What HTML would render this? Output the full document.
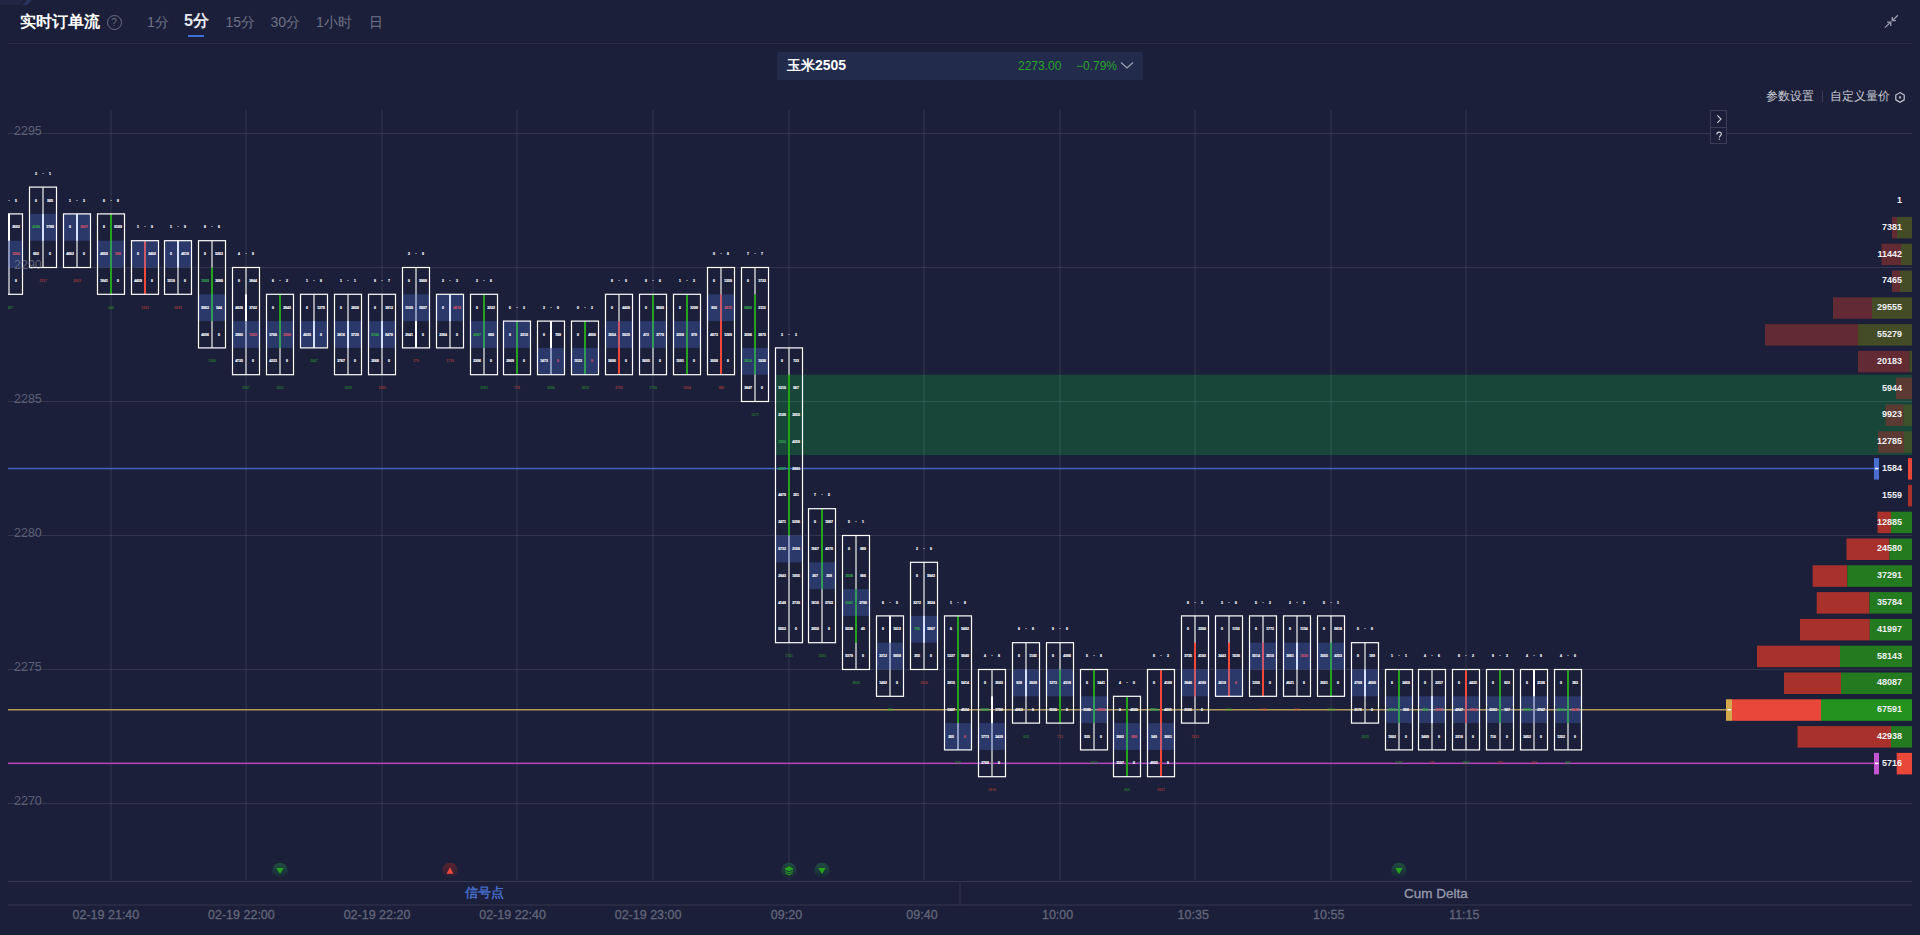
<!DOCTYPE html><html><head><meta charset="utf-8"><style>
*{margin:0;padding:0;box-sizing:border-box}
html,body{width:1920px;height:935px;overflow:hidden;background:#1b1f39;font-family:"Liberation Sans",sans-serif}
.t{font-size:3.4px;font-weight:bold;fill:#ececf2;stroke:#ececf2;stroke-width:0.22px;text-anchor:middle;font-family:"Liberation Sans",sans-serif}
.ax{font-size:12.5px;fill:#8a8da0;fill-opacity:0.6;font-family:"Liberation Sans",sans-serif}
.tm{font-size:12.5px;fill:#62667a;stroke:#62667a;stroke-width:0.3px;text-anchor:middle;font-family:"Liberation Sans",sans-serif}
.vp{font-size:9px;font-weight:bold;fill:#f0f0f4;text-anchor:end;font-family:"Liberation Sans",sans-serif}
.hd{position:absolute;white-space:nowrap;line-height:1}
</style></head><body>
<svg width="1920" height="935" viewBox="0 0 1920 935" style="position:absolute;left:0;top:0"><rect x="8" y="43" width="1904" height="1" fill="#2a2d44"/><path d="M0 0H24L19.5 5H0Z" fill="#212745"/><path d="M27 0H32L27.3 5H22.3Z" fill="#27325f"/><defs><clipPath id="cc"><rect x="8" y="100" width="1904" height="780"/></clipPath></defs><g clip-path="url(#cc)"><rect x="775.5" y="374.7" width="1136.5" height="80.4" fill="#18473a"/><rect x="8" y="133.0" width="1904" height="1" fill="#ffffff" fill-opacity="0.1"/><rect x="8" y="267.0" width="1904" height="1" fill="#ffffff" fill-opacity="0.1"/><rect x="8" y="401.0" width="1904" height="1" fill="#ffffff" fill-opacity="0.1"/><rect x="8" y="535.0" width="1904" height="1" fill="#ffffff" fill-opacity="0.1"/><rect x="8" y="669.0" width="1904" height="1" fill="#ffffff" fill-opacity="0.1"/><rect x="8" y="803.0" width="1904" height="1" fill="#ffffff" fill-opacity="0.1"/><rect x="110.4" y="110" width="1.2" height="770" fill="#ffffff" fill-opacity="0.085"/><rect x="245.4" y="110" width="1.2" height="770" fill="#ffffff" fill-opacity="0.085"/><rect x="381.4" y="110" width="1.2" height="770" fill="#ffffff" fill-opacity="0.085"/><rect x="516.4" y="110" width="1.2" height="770" fill="#ffffff" fill-opacity="0.085"/><rect x="652.4" y="110" width="1.2" height="770" fill="#ffffff" fill-opacity="0.085"/><rect x="788.4" y="110" width="1.2" height="770" fill="#ffffff" fill-opacity="0.085"/><rect x="923.4" y="110" width="1.2" height="770" fill="#ffffff" fill-opacity="0.085"/><rect x="1059.4" y="110" width="1.2" height="770" fill="#ffffff" fill-opacity="0.085"/><rect x="1194.4" y="110" width="1.2" height="770" fill="#ffffff" fill-opacity="0.085"/><rect x="1330.4" y="110" width="1.2" height="770" fill="#ffffff" fill-opacity="0.085"/><rect x="1465.4" y="110" width="1.2" height="770" fill="#ffffff" fill-opacity="0.085"/></g><rect x="8" y="467.8" width="1866" height="1.5" fill="#4163c4"/><rect x="8" y="709.0" width="1720" height="1.5" fill="#b39a5a"/><rect x="8" y="762.6" width="1866" height="1.5" fill="#b546c0"/><g clip-path="url(#cc)"><rect x="8.00" y="213.90" width="2" height="80.40" fill="#9a9ca6"/><rect x="8.00" y="213.90" width="2" height="26.80" fill="#ffffff"/><rect x="-4.50" y="240.70" width="27" height="26.80" fill="#5a82ff" fill-opacity="0.25"/><rect x="-4.50" y="213.90" width="27" height="80.40" fill="none" stroke="#ffffff" stroke-width="1.2"/><text x="2.0" y="228.4" class="t">0</text><text x="16.0" y="228.4" class="t">2682</text><text x="2.0" y="255.2" class="t">1265</text><text x="16.0" y="255.2" class="t" style="fill:#c0506a;stroke:#c0506a">3264</text><text x="2.0" y="282.0" class="t">4419</text><text x="16.0" y="282.0" class="t">0</text><text x="2.0" y="201.6" class="t">1</text><text x="9.0" y="201.6" class="t d">·</text><text x="16.0" y="201.6" class="t">5</text><text x="9.0" y="308.8" class="t" style="fill:#2a9a2a;stroke:none;fill-opacity:0.75">2487</text><rect x="42.00" y="187.10" width="2" height="80.40" fill="#9a9ca6"/><rect x="42.00" y="213.90" width="2" height="26.80" fill="#ffffff"/><rect x="29.50" y="213.90" width="27" height="26.80" fill="#5a82ff" fill-opacity="0.25"/><rect x="29.50" y="187.10" width="27" height="80.40" fill="none" stroke="#ffffff" stroke-width="1.2"/><text x="36.0" y="201.6" class="t">0</text><text x="50.0" y="201.6" class="t">505</text><text x="36.0" y="228.4" class="t" style="fill:#2f9a4a;stroke:#2f9a4a">4186</text><text x="50.0" y="228.4" class="t">1788</text><text x="36.0" y="255.2" class="t">602</text><text x="50.0" y="255.2" class="t">0</text><text x="36.0" y="174.8" class="t">3</text><text x="43.0" y="174.8" class="t d">·</text><text x="50.0" y="174.8" class="t">1</text><text x="43.0" y="282.0" class="t" style="fill:#c8403a;stroke:none;fill-opacity:0.75">2357</text><rect x="76.00" y="213.90" width="2" height="53.60" fill="#9a9ca6"/><rect x="76.00" y="213.90" width="2" height="26.80" fill="#ffffff"/><rect x="63.50" y="213.90" width="27" height="26.80" fill="#5a82ff" fill-opacity="0.25"/><rect x="63.50" y="213.90" width="27" height="53.60" fill="none" stroke="#ffffff" stroke-width="1.2"/><text x="70.0" y="228.4" class="t">0</text><text x="84.0" y="228.4" class="t" style="fill:#c0506a;stroke:#c0506a">3507</text><text x="70.0" y="255.2" class="t">4662</text><text x="84.0" y="255.2" class="t">0</text><text x="70.0" y="201.6" class="t">1</text><text x="77.0" y="201.6" class="t d">·</text><text x="84.0" y="201.6" class="t">3</text><text x="77.0" y="282.0" class="t" style="fill:#c8403a;stroke:none;fill-opacity:0.75">2683</text><rect x="110.00" y="213.90" width="2" height="80.40" fill="#9a9ca6"/><rect x="110.00" y="213.90" width="2" height="80.40" fill="#25a21f"/><rect x="97.50" y="240.70" width="27" height="26.80" fill="#5a82ff" fill-opacity="0.25"/><rect x="97.50" y="213.90" width="27" height="80.40" fill="none" stroke="#ffffff" stroke-width="1.2"/><text x="104.0" y="228.4" class="t">0</text><text x="118.0" y="228.4" class="t">5169</text><text x="104.0" y="255.2" class="t">4805</text><text x="118.0" y="255.2" class="t" style="fill:#c0506a;stroke:#c0506a">536</text><text x="104.0" y="282.0" class="t">1841</text><text x="118.0" y="282.0" class="t">0</text><text x="104.0" y="201.6" class="t">0</text><text x="111.0" y="201.6" class="t d">·</text><text x="118.0" y="201.6" class="t">8</text><text x="111.0" y="308.8" class="t" style="fill:#2a9a2a;stroke:none;fill-opacity:0.75">645</text><rect x="144.00" y="240.70" width="2" height="53.60" fill="#9a9ca6"/><rect x="144.00" y="240.70" width="2" height="53.60" fill="#f0483a"/><rect x="131.50" y="240.70" width="27" height="26.80" fill="#5a82ff" fill-opacity="0.25"/><rect x="131.50" y="240.70" width="27" height="53.60" fill="none" stroke="#ffffff" stroke-width="1.2"/><text x="138.0" y="255.2" class="t">0</text><text x="152.0" y="255.2" class="t">2402</text><text x="138.0" y="282.0" class="t">4459</text><text x="152.0" y="282.0" class="t">0</text><text x="138.0" y="228.4" class="t">1</text><text x="145.0" y="228.4" class="t d">·</text><text x="152.0" y="228.4" class="t">9</text><text x="145.0" y="308.8" class="t" style="fill:#c8403a;stroke:none;fill-opacity:0.75">1363</text><rect x="177.00" y="240.70" width="2" height="53.60" fill="#9a9ca6"/><rect x="177.00" y="240.70" width="2" height="26.80" fill="#ffffff"/><rect x="164.50" y="240.70" width="27" height="26.80" fill="#5a82ff" fill-opacity="0.25"/><rect x="164.50" y="240.70" width="27" height="53.60" fill="none" stroke="#ffffff" stroke-width="1.2"/><text x="171.0" y="255.2" class="t">0</text><text x="185.0" y="255.2" class="t">4619</text><text x="171.0" y="282.0" class="t">1510</text><text x="185.0" y="282.0" class="t">0</text><text x="171.0" y="228.4" class="t">1</text><text x="178.0" y="228.4" class="t d">·</text><text x="185.0" y="228.4" class="t">9</text><text x="178.0" y="308.8" class="t" style="fill:#c8403a;stroke:none;fill-opacity:0.75">2439</text><rect x="211.00" y="240.70" width="2" height="107.20" fill="#9a9ca6"/><rect x="211.00" y="267.50" width="2" height="53.60" fill="#25a21f"/><rect x="198.50" y="294.30" width="27" height="26.80" fill="#5a82ff" fill-opacity="0.25"/><rect x="198.50" y="240.70" width="27" height="107.20" fill="none" stroke="#ffffff" stroke-width="1.2"/><text x="205.0" y="255.2" class="t">0</text><text x="219.0" y="255.2" class="t">5263</text><text x="205.0" y="282.0" class="t" style="fill:#2f9a4a;stroke:#2f9a4a">1569</text><text x="219.0" y="282.0" class="t">3080</text><text x="205.0" y="308.8" class="t">5863</text><text x="219.0" y="308.8" class="t">544</text><text x="205.0" y="335.6" class="t">4096</text><text x="219.0" y="335.6" class="t">0</text><text x="205.0" y="228.4" class="t">8</text><text x="212.0" y="228.4" class="t d">·</text><text x="219.0" y="228.4" class="t">6</text><text x="212.0" y="362.4" class="t" style="fill:#2a9a2a;stroke:none;fill-opacity:0.75">1386</text><rect x="245.00" y="267.50" width="2" height="107.20" fill="#9a9ca6"/><rect x="245.00" y="294.30" width="2" height="26.80" fill="#ffffff"/><rect x="232.50" y="321.10" width="27" height="26.80" fill="#5a82ff" fill-opacity="0.25"/><rect x="232.50" y="267.50" width="27" height="107.20" fill="none" stroke="#ffffff" stroke-width="1.2"/><text x="239.0" y="282.0" class="t">0</text><text x="253.0" y="282.0" class="t">3844</text><text x="239.0" y="308.8" class="t">4826</text><text x="253.0" y="308.8" class="t">3742</text><text x="239.0" y="335.6" class="t">2065</text><text x="253.0" y="335.6" class="t" style="fill:#c0506a;stroke:#c0506a">1502</text><text x="239.0" y="362.4" class="t">4735</text><text x="253.0" y="362.4" class="t">0</text><text x="239.0" y="255.2" class="t">4</text><text x="246.0" y="255.2" class="t d">·</text><text x="253.0" y="255.2" class="t">8</text><text x="246.0" y="389.2" class="t" style="fill:#2a9a2a;stroke:none;fill-opacity:0.75">2127</text><rect x="279.00" y="294.30" width="2" height="80.40" fill="#9a9ca6"/><rect x="279.00" y="294.30" width="2" height="53.60" fill="#25a21f"/><rect x="266.50" y="321.10" width="27" height="26.80" fill="#5a82ff" fill-opacity="0.25"/><rect x="266.50" y="294.30" width="27" height="80.40" fill="none" stroke="#ffffff" stroke-width="1.2"/><text x="273.0" y="308.8" class="t">0</text><text x="287.0" y="308.8" class="t">2843</text><text x="273.0" y="335.6" class="t">3706</text><text x="287.0" y="335.6" class="t" style="fill:#c0506a;stroke:#c0506a">2388</text><text x="273.0" y="362.4" class="t">4223</text><text x="287.0" y="362.4" class="t">0</text><text x="273.0" y="282.0" class="t">6</text><text x="280.0" y="282.0" class="t d">·</text><text x="287.0" y="282.0" class="t">2</text><text x="280.0" y="389.2" class="t" style="fill:#2a9a2a;stroke:none;fill-opacity:0.75">1501</text><rect x="313.00" y="294.30" width="2" height="53.60" fill="#9a9ca6"/><rect x="313.00" y="321.10" width="2" height="26.80" fill="#ffffff"/><rect x="300.50" y="321.10" width="27" height="26.80" fill="#5a82ff" fill-opacity="0.25"/><rect x="300.50" y="294.30" width="27" height="53.60" fill="none" stroke="#ffffff" stroke-width="1.2"/><text x="307.0" y="308.8" class="t">0</text><text x="321.0" y="308.8" class="t">1275</text><text x="307.0" y="335.6" class="t">4035</text><text x="321.0" y="335.6" class="t">0</text><text x="307.0" y="282.0" class="t">1</text><text x="314.0" y="282.0" class="t d">·</text><text x="321.0" y="282.0" class="t">8</text><text x="314.0" y="362.4" class="t" style="fill:#2a9a2a;stroke:none;fill-opacity:0.75">2447</text><rect x="347.00" y="294.30" width="2" height="80.40" fill="#9a9ca6"/><rect x="347.00" y="321.10" width="2" height="26.80" fill="#ffffff"/><rect x="334.50" y="321.10" width="27" height="26.80" fill="#5a82ff" fill-opacity="0.25"/><rect x="334.50" y="294.30" width="27" height="80.40" fill="none" stroke="#ffffff" stroke-width="1.2"/><text x="341.0" y="308.8" class="t">0</text><text x="355.0" y="308.8" class="t">2600</text><text x="341.0" y="335.6" class="t">2816</text><text x="355.0" y="335.6" class="t">5725</text><text x="341.0" y="362.4" class="t">3767</text><text x="355.0" y="362.4" class="t">0</text><text x="341.0" y="282.0" class="t">1</text><text x="348.0" y="282.0" class="t d">·</text><text x="355.0" y="282.0" class="t">1</text><text x="348.0" y="389.2" class="t" style="fill:#2a9a2a;stroke:none;fill-opacity:0.75">1205</text><rect x="381.00" y="294.30" width="2" height="80.40" fill="#9a9ca6"/><rect x="381.00" y="321.10" width="2" height="26.80" fill="#ffffff"/><rect x="368.50" y="321.10" width="27" height="26.80" fill="#5a82ff" fill-opacity="0.25"/><rect x="368.50" y="294.30" width="27" height="80.40" fill="none" stroke="#ffffff" stroke-width="1.2"/><text x="375.0" y="308.8" class="t">0</text><text x="389.0" y="308.8" class="t">3913</text><text x="375.0" y="335.6" class="t" style="fill:#2f9a4a;stroke:#2f9a4a">5740</text><text x="389.0" y="335.6" class="t">5470</text><text x="375.0" y="362.4" class="t">2566</text><text x="389.0" y="362.4" class="t">0</text><text x="375.0" y="282.0" class="t">9</text><text x="382.0" y="282.0" class="t d">·</text><text x="389.0" y="282.0" class="t">7</text><text x="382.0" y="389.2" class="t" style="fill:#c8403a;stroke:none;fill-opacity:0.75">1265</text><rect x="415.00" y="267.50" width="2" height="80.40" fill="#9a9ca6"/><rect x="415.00" y="321.10" width="2" height="26.80" fill="#ffffff"/><rect x="402.50" y="294.30" width="27" height="26.80" fill="#5a82ff" fill-opacity="0.25"/><rect x="402.50" y="267.50" width="27" height="80.40" fill="none" stroke="#ffffff" stroke-width="1.2"/><text x="409.0" y="282.0" class="t">0</text><text x="423.0" y="282.0" class="t">5900</text><text x="409.0" y="308.8" class="t">3190</text><text x="423.0" y="308.8" class="t">5507</text><text x="409.0" y="335.6" class="t">2941</text><text x="423.0" y="335.6" class="t">0</text><text x="409.0" y="255.2" class="t">2</text><text x="416.0" y="255.2" class="t d">·</text><text x="423.0" y="255.2" class="t">9</text><text x="416.0" y="362.4" class="t" style="fill:#c8403a;stroke:none;fill-opacity:0.75">579</text><rect x="449.00" y="294.30" width="2" height="53.60" fill="#9a9ca6"/><rect x="449.00" y="294.30" width="2" height="26.80" fill="#ffffff"/><rect x="436.50" y="294.30" width="27" height="26.80" fill="#5a82ff" fill-opacity="0.25"/><rect x="436.50" y="294.30" width="27" height="53.60" fill="none" stroke="#ffffff" stroke-width="1.2"/><text x="443.0" y="308.8" class="t">0</text><text x="457.0" y="308.8" class="t" style="fill:#c0506a;stroke:#c0506a">4074</text><text x="443.0" y="335.6" class="t">2384</text><text x="457.0" y="335.6" class="t">0</text><text x="443.0" y="282.0" class="t">2</text><text x="450.0" y="282.0" class="t d">·</text><text x="457.0" y="282.0" class="t">3</text><text x="450.0" y="362.4" class="t" style="fill:#c8403a;stroke:none;fill-opacity:0.75">1729</text><rect x="483.00" y="294.30" width="2" height="80.40" fill="#9a9ca6"/><rect x="483.00" y="294.30" width="2" height="53.60" fill="#25a21f"/><rect x="470.50" y="321.10" width="27" height="26.80" fill="#5a82ff" fill-opacity="0.25"/><rect x="470.50" y="294.30" width="27" height="80.40" fill="none" stroke="#ffffff" stroke-width="1.2"/><text x="477.0" y="308.8" class="t">0</text><text x="491.0" y="308.8" class="t">3232</text><text x="477.0" y="335.6" class="t" style="fill:#2f9a4a;stroke:#2f9a4a">4097</text><text x="491.0" y="335.6" class="t">690</text><text x="477.0" y="362.4" class="t">2306</text><text x="491.0" y="362.4" class="t">0</text><text x="477.0" y="282.0" class="t">2</text><text x="484.0" y="282.0" class="t d">·</text><text x="491.0" y="282.0" class="t">6</text><text x="484.0" y="389.2" class="t" style="fill:#2a9a2a;stroke:none;fill-opacity:0.75">2353</text><rect x="516.00" y="321.10" width="2" height="53.60" fill="#9a9ca6"/><rect x="516.00" y="321.10" width="2" height="53.60" fill="#25a21f"/><rect x="503.50" y="321.10" width="27" height="26.80" fill="#5a82ff" fill-opacity="0.25"/><rect x="503.50" y="321.10" width="27" height="53.60" fill="none" stroke="#ffffff" stroke-width="1.2"/><text x="510.0" y="335.6" class="t">0</text><text x="524.0" y="335.6" class="t">2310</text><text x="510.0" y="362.4" class="t">2969</text><text x="524.0" y="362.4" class="t">0</text><text x="510.0" y="308.8" class="t">6</text><text x="517.0" y="308.8" class="t d">·</text><text x="524.0" y="308.8" class="t">3</text><text x="517.0" y="389.2" class="t" style="fill:#c8403a;stroke:none;fill-opacity:0.75">718</text><rect x="550.00" y="321.10" width="2" height="53.60" fill="#9a9ca6"/><rect x="550.00" y="321.10" width="2" height="26.80" fill="#ffffff"/><rect x="537.50" y="347.90" width="27" height="26.80" fill="#5a82ff" fill-opacity="0.25"/><rect x="537.50" y="321.10" width="27" height="53.60" fill="none" stroke="#ffffff" stroke-width="1.2"/><text x="544.0" y="335.6" class="t">0</text><text x="558.0" y="335.6" class="t">709</text><text x="544.0" y="362.4" class="t">1473</text><text x="558.0" y="362.4" class="t" style="fill:#c0506a;stroke:#c0506a">0</text><text x="544.0" y="308.8" class="t">3</text><text x="551.0" y="308.8" class="t d">·</text><text x="558.0" y="308.8" class="t">0</text><text x="551.0" y="389.2" class="t" style="fill:#2a9a2a;stroke:none;fill-opacity:0.75">2086</text><rect x="584.00" y="321.10" width="2" height="53.60" fill="#9a9ca6"/><rect x="584.00" y="321.10" width="2" height="53.60" fill="#25a21f"/><rect x="571.50" y="347.90" width="27" height="26.80" fill="#5a82ff" fill-opacity="0.25"/><rect x="571.50" y="321.10" width="27" height="53.60" fill="none" stroke="#ffffff" stroke-width="1.2"/><text x="578.0" y="335.6" class="t">0</text><text x="592.0" y="335.6" class="t">4856</text><text x="578.0" y="362.4" class="t">1523</text><text x="592.0" y="362.4" class="t" style="fill:#c0506a;stroke:#c0506a">0</text><text x="578.0" y="308.8" class="t">0</text><text x="585.0" y="308.8" class="t d">·</text><text x="592.0" y="308.8" class="t">2</text><text x="585.0" y="389.2" class="t" style="fill:#2a9a2a;stroke:none;fill-opacity:0.75">1816</text><rect x="618.00" y="294.30" width="2" height="80.40" fill="#9a9ca6"/><rect x="618.00" y="321.10" width="2" height="53.60" fill="#f0483a"/><rect x="605.50" y="321.10" width="27" height="26.80" fill="#5a82ff" fill-opacity="0.25"/><rect x="605.50" y="294.30" width="27" height="80.40" fill="none" stroke="#ffffff" stroke-width="1.2"/><text x="612.0" y="308.8" class="t">0</text><text x="626.0" y="308.8" class="t">4409</text><text x="612.0" y="335.6" class="t">3054</text><text x="626.0" y="335.6" class="t">5025</text><text x="612.0" y="362.4" class="t">5686</text><text x="626.0" y="362.4" class="t">0</text><text x="612.0" y="282.0" class="t">8</text><text x="619.0" y="282.0" class="t d">·</text><text x="626.0" y="282.0" class="t">9</text><text x="619.0" y="389.2" class="t" style="fill:#c8403a;stroke:none;fill-opacity:0.75">2782</text><rect x="652.00" y="294.30" width="2" height="80.40" fill="#9a9ca6"/><rect x="652.00" y="294.30" width="2" height="53.60" fill="#25a21f"/><rect x="639.50" y="321.10" width="27" height="26.80" fill="#5a82ff" fill-opacity="0.25"/><rect x="639.50" y="294.30" width="27" height="80.40" fill="none" stroke="#ffffff" stroke-width="1.2"/><text x="646.0" y="308.8" class="t">0</text><text x="660.0" y="308.8" class="t">5569</text><text x="646.0" y="335.6" class="t">472</text><text x="660.0" y="335.6" class="t">3770</text><text x="646.0" y="362.4" class="t">5605</text><text x="660.0" y="362.4" class="t">0</text><text x="646.0" y="282.0" class="t">8</text><text x="653.0" y="282.0" class="t d">·</text><text x="660.0" y="282.0" class="t">6</text><text x="653.0" y="389.2" class="t" style="fill:#2a9a2a;stroke:none;fill-opacity:0.75">1730</text><rect x="686.00" y="294.30" width="2" height="80.40" fill="#9a9ca6"/><rect x="686.00" y="294.30" width="2" height="80.40" fill="#25a21f"/><rect x="673.50" y="321.10" width="27" height="26.80" fill="#5a82ff" fill-opacity="0.25"/><rect x="673.50" y="294.30" width="27" height="80.40" fill="none" stroke="#ffffff" stroke-width="1.2"/><text x="680.0" y="308.8" class="t">0</text><text x="694.0" y="308.8" class="t">3298</text><text x="680.0" y="335.6" class="t">3258</text><text x="694.0" y="335.6" class="t">878</text><text x="680.0" y="362.4" class="t">1591</text><text x="694.0" y="362.4" class="t">0</text><text x="680.0" y="282.0" class="t">1</text><text x="687.0" y="282.0" class="t d">·</text><text x="694.0" y="282.0" class="t">3</text><text x="687.0" y="389.2" class="t" style="fill:#c8403a;stroke:none;fill-opacity:0.75">1904</text><rect x="720.00" y="267.50" width="2" height="107.20" fill="#9a9ca6"/><rect x="720.00" y="294.30" width="2" height="80.40" fill="#f0483a"/><rect x="707.50" y="294.30" width="27" height="26.80" fill="#5a82ff" fill-opacity="0.25"/><rect x="707.50" y="267.50" width="27" height="107.20" fill="none" stroke="#ffffff" stroke-width="1.2"/><text x="714.0" y="282.0" class="t">0</text><text x="728.0" y="282.0" class="t">1359</text><text x="714.0" y="308.8" class="t">930</text><text x="728.0" y="308.8" class="t" style="fill:#c0506a;stroke:#c0506a">2815</text><text x="714.0" y="335.6" class="t">4673</text><text x="728.0" y="335.6" class="t">1269</text><text x="714.0" y="362.4" class="t">3008</text><text x="728.0" y="362.4" class="t">0</text><text x="714.0" y="255.2" class="t">9</text><text x="721.0" y="255.2" class="t d">·</text><text x="728.0" y="255.2" class="t">0</text><text x="721.0" y="389.2" class="t" style="fill:#c8403a;stroke:none;fill-opacity:0.75">388</text><rect x="754.00" y="267.50" width="2" height="134.00" fill="#9a9ca6"/><rect x="754.00" y="294.30" width="2" height="80.40" fill="#25a21f"/><rect x="741.50" y="347.90" width="27" height="26.80" fill="#5a82ff" fill-opacity="0.25"/><rect x="741.50" y="267.50" width="27" height="134.00" fill="none" stroke="#ffffff" stroke-width="1.2"/><text x="748.0" y="282.0" class="t">0</text><text x="762.0" y="282.0" class="t">1733</text><text x="748.0" y="308.8" class="t" style="fill:#2f9a4a;stroke:#2f9a4a">5060</text><text x="762.0" y="308.8" class="t">3112</text><text x="748.0" y="335.6" class="t">2096</text><text x="762.0" y="335.6" class="t">2875</text><text x="748.0" y="362.4" class="t" style="fill:#2f9a4a;stroke:#2f9a4a">3914</text><text x="762.0" y="362.4" class="t">1036</text><text x="748.0" y="389.2" class="t">3847</text><text x="762.0" y="389.2" class="t">0</text><text x="748.0" y="255.2" class="t">7</text><text x="755.0" y="255.2" class="t d">·</text><text x="762.0" y="255.2" class="t">7</text><text x="755.0" y="416.0" class="t" style="fill:#2a9a2a;stroke:none;fill-opacity:0.75">1377</text><rect x="788.00" y="347.90" width="2" height="294.80" fill="#9a9ca6"/><rect x="788.00" y="374.70" width="2" height="160.80" fill="#25a21f"/><rect x="775.50" y="535.50" width="27" height="26.80" fill="#5a82ff" fill-opacity="0.25"/><rect x="775.50" y="347.90" width="27" height="294.80" fill="none" stroke="#ffffff" stroke-width="1.2"/><text x="782.0" y="362.4" class="t">0</text><text x="796.0" y="362.4" class="t">733</text><text x="782.0" y="389.2" class="t">1210</text><text x="796.0" y="389.2" class="t">867</text><text x="782.0" y="416.0" class="t">2198</text><text x="796.0" y="416.0" class="t">3950</text><text x="782.0" y="442.8" class="t" style="fill:#2f9a4a;stroke:#2f9a4a">1352</text><text x="796.0" y="442.8" class="t">4259</text><text x="782.0" y="469.6" class="t" style="fill:#2f9a4a;stroke:#2f9a4a">4357</text><text x="796.0" y="469.6" class="t">2993</text><text x="782.0" y="496.4" class="t">4479</text><text x="796.0" y="496.4" class="t">251</text><text x="782.0" y="523.2" class="t">2471</text><text x="796.0" y="523.2" class="t">5296</text><text x="782.0" y="550.0" class="t">5733</text><text x="796.0" y="550.0" class="t">2169</text><text x="782.0" y="576.8" class="t">2943</text><text x="796.0" y="576.8" class="t">1855</text><text x="782.0" y="603.6" class="t">4148</text><text x="796.0" y="603.6" class="t">2730</text><text x="782.0" y="630.4" class="t">5053</text><text x="796.0" y="630.4" class="t">0</text><text x="782.0" y="335.6" class="t">3</text><text x="789.0" y="335.6" class="t d">·</text><text x="796.0" y="335.6" class="t">3</text><text x="789.0" y="657.2" class="t" style="fill:#2a9a2a;stroke:none;fill-opacity:0.75">1741</text><rect x="821.00" y="508.70" width="2" height="134.00" fill="#9a9ca6"/><rect x="821.00" y="508.70" width="2" height="80.40" fill="#25a21f"/><rect x="808.50" y="562.30" width="27" height="26.80" fill="#5a82ff" fill-opacity="0.25"/><rect x="808.50" y="508.70" width="27" height="134.00" fill="none" stroke="#ffffff" stroke-width="1.2"/><text x="815.0" y="523.2" class="t">0</text><text x="829.0" y="523.2" class="t">1887</text><text x="815.0" y="550.0" class="t">1667</text><text x="829.0" y="550.0" class="t">4270</text><text x="815.0" y="576.8" class="t">267</text><text x="829.0" y="576.8" class="t">258</text><text x="815.0" y="603.6" class="t">1616</text><text x="829.0" y="603.6" class="t">5703</text><text x="815.0" y="630.4" class="t">2850</text><text x="829.0" y="630.4" class="t">0</text><text x="815.0" y="496.4" class="t">7</text><text x="822.0" y="496.4" class="t d">·</text><text x="829.0" y="496.4" class="t">5</text><text x="822.0" y="657.2" class="t" style="fill:#2a9a2a;stroke:none;fill-opacity:0.75">1593</text><rect x="855.00" y="535.50" width="2" height="134.00" fill="#9a9ca6"/><rect x="855.00" y="589.10" width="2" height="53.60" fill="#25a21f"/><rect x="842.50" y="589.10" width="27" height="26.80" fill="#5a82ff" fill-opacity="0.25"/><rect x="842.50" y="535.50" width="27" height="134.00" fill="none" stroke="#ffffff" stroke-width="1.2"/><text x="849.0" y="550.0" class="t">0</text><text x="863.0" y="550.0" class="t">689</text><text x="849.0" y="576.8" class="t" style="fill:#2f9a4a;stroke:#2f9a4a">1836</text><text x="863.0" y="576.8" class="t">866</text><text x="849.0" y="603.6" class="t" style="fill:#2f9a4a;stroke:#2f9a4a">1641</text><text x="863.0" y="603.6" class="t">2796</text><text x="849.0" y="630.4" class="t">5029</text><text x="863.0" y="630.4" class="t">45</text><text x="849.0" y="657.2" class="t">5379</text><text x="863.0" y="657.2" class="t">0</text><text x="849.0" y="523.2" class="t">5</text><text x="856.0" y="523.2" class="t d">·</text><text x="863.0" y="523.2" class="t">1</text><text x="856.0" y="684.0" class="t" style="fill:#2a9a2a;stroke:none;fill-opacity:0.75">2805</text><rect x="889.00" y="615.90" width="2" height="80.40" fill="#9a9ca6"/><rect x="889.00" y="615.90" width="2" height="26.80" fill="#ffffff"/><rect x="876.50" y="642.70" width="27" height="26.80" fill="#5a82ff" fill-opacity="0.25"/><rect x="876.50" y="615.90" width="27" height="80.40" fill="none" stroke="#ffffff" stroke-width="1.2"/><text x="883.0" y="630.4" class="t">0</text><text x="897.0" y="630.4" class="t">1012</text><text x="883.0" y="657.2" class="t">3212</text><text x="897.0" y="657.2" class="t">5858</text><text x="883.0" y="684.0" class="t">1492</text><text x="897.0" y="684.0" class="t">0</text><text x="883.0" y="603.6" class="t">6</text><text x="890.0" y="603.6" class="t d">·</text><text x="897.0" y="603.6" class="t">5</text><text x="890.0" y="710.8" class="t" style="fill:#2a9a2a;stroke:none;fill-opacity:0.75">455</text><rect x="923.00" y="562.30" width="2" height="107.20" fill="#9a9ca6"/><rect x="923.00" y="615.90" width="2" height="26.80" fill="#ffffff"/><rect x="910.50" y="615.90" width="27" height="26.80" fill="#5a82ff" fill-opacity="0.25"/><rect x="910.50" y="562.30" width="27" height="107.20" fill="none" stroke="#ffffff" stroke-width="1.2"/><text x="917.0" y="576.8" class="t">0</text><text x="931.0" y="576.8" class="t">5943</text><text x="917.0" y="603.6" class="t">3272</text><text x="931.0" y="603.6" class="t">3824</text><text x="917.0" y="630.4" class="t" style="fill:#2f9a4a;stroke:#2f9a4a">725</text><text x="931.0" y="630.4" class="t">5967</text><text x="917.0" y="657.2" class="t">255</text><text x="931.0" y="657.2" class="t">0</text><text x="917.0" y="550.0" class="t">2</text><text x="924.0" y="550.0" class="t d">·</text><text x="931.0" y="550.0" class="t">9</text><text x="924.0" y="684.0" class="t" style="fill:#c8403a;stroke:none;fill-opacity:0.75">2006</text><rect x="957.00" y="615.90" width="2" height="134.00" fill="#9a9ca6"/><rect x="957.00" y="615.90" width="2" height="107.20" fill="#25a21f"/><rect x="944.50" y="723.10" width="27" height="26.80" fill="#5a82ff" fill-opacity="0.25"/><rect x="944.50" y="615.90" width="27" height="134.00" fill="none" stroke="#ffffff" stroke-width="1.2"/><text x="951.0" y="630.4" class="t">0</text><text x="965.0" y="630.4" class="t">5402</text><text x="951.0" y="657.2" class="t">1227</text><text x="965.0" y="657.2" class="t">5040</text><text x="951.0" y="684.0" class="t">3915</text><text x="965.0" y="684.0" class="t">5414</text><text x="951.0" y="710.8" class="t">1307</text><text x="965.0" y="710.8" class="t">4524</text><text x="951.0" y="737.6" class="t">205</text><text x="965.0" y="737.6" class="t" style="fill:#c0506a;stroke:#c0506a">0</text><text x="951.0" y="603.6" class="t">1</text><text x="958.0" y="603.6" class="t d">·</text><text x="965.0" y="603.6" class="t">8</text><text x="958.0" y="764.4" class="t" style="fill:#2a9a2a;stroke:none;fill-opacity:0.75">670</text><rect x="991.00" y="669.50" width="2" height="107.20" fill="#9a9ca6"/><rect x="991.00" y="696.30" width="2" height="26.80" fill="#ffffff"/><rect x="978.50" y="723.10" width="27" height="26.80" fill="#5a82ff" fill-opacity="0.25"/><rect x="978.50" y="669.50" width="27" height="107.20" fill="none" stroke="#ffffff" stroke-width="1.2"/><text x="985.0" y="684.0" class="t">0</text><text x="999.0" y="684.0" class="t">3583</text><text x="985.0" y="710.8" class="t" style="fill:#2f9a4a;stroke:#2f9a4a">1625</text><text x="999.0" y="710.8" class="t">1758</text><text x="985.0" y="737.6" class="t">1773</text><text x="999.0" y="737.6" class="t">2429</text><text x="985.0" y="764.4" class="t">2700</text><text x="999.0" y="764.4" class="t">0</text><text x="985.0" y="657.2" class="t">4</text><text x="992.0" y="657.2" class="t d">·</text><text x="999.0" y="657.2" class="t">8</text><text x="992.0" y="791.2" class="t" style="fill:#c8403a;stroke:none;fill-opacity:0.75">1816</text><rect x="1025.00" y="642.70" width="2" height="80.40" fill="#9a9ca6"/><rect x="1025.00" y="669.50" width="2" height="26.80" fill="#ffffff"/><rect x="1012.50" y="669.50" width="27" height="26.80" fill="#5a82ff" fill-opacity="0.25"/><rect x="1012.50" y="642.70" width="27" height="80.40" fill="none" stroke="#ffffff" stroke-width="1.2"/><text x="1019.0" y="657.2" class="t">0</text><text x="1033.0" y="657.2" class="t">1103</text><text x="1019.0" y="684.0" class="t">528</text><text x="1033.0" y="684.0" class="t">2928</text><text x="1019.0" y="710.8" class="t">4263</text><text x="1033.0" y="710.8" class="t">0</text><text x="1019.0" y="630.4" class="t">6</text><text x="1026.0" y="630.4" class="t d">·</text><text x="1033.0" y="630.4" class="t">8</text><text x="1026.0" y="737.6" class="t" style="fill:#2a9a2a;stroke:none;fill-opacity:0.75">635</text><rect x="1059.00" y="642.70" width="2" height="80.40" fill="#9a9ca6"/><rect x="1059.00" y="669.50" width="2" height="53.60" fill="#25a21f"/><rect x="1046.50" y="669.50" width="27" height="26.80" fill="#5a82ff" fill-opacity="0.25"/><rect x="1046.50" y="642.70" width="27" height="80.40" fill="none" stroke="#ffffff" stroke-width="1.2"/><text x="1053.0" y="657.2" class="t">0</text><text x="1067.0" y="657.2" class="t">4386</text><text x="1053.0" y="684.0" class="t">1273</text><text x="1067.0" y="684.0" class="t">4318</text><text x="1053.0" y="710.8" class="t">1530</text><text x="1067.0" y="710.8" class="t">0</text><text x="1053.0" y="630.4" class="t">9</text><text x="1060.0" y="630.4" class="t d">·</text><text x="1067.0" y="630.4" class="t">0</text><text x="1060.0" y="737.6" class="t" style="fill:#c8403a;stroke:none;fill-opacity:0.75">713</text><rect x="1093.00" y="669.50" width="2" height="80.40" fill="#9a9ca6"/><rect x="1093.00" y="669.50" width="2" height="53.60" fill="#25a21f"/><rect x="1080.50" y="696.30" width="27" height="26.80" fill="#5a82ff" fill-opacity="0.25"/><rect x="1080.50" y="669.50" width="27" height="80.40" fill="none" stroke="#ffffff" stroke-width="1.2"/><text x="1087.0" y="684.0" class="t">0</text><text x="1101.0" y="684.0" class="t">1441</text><text x="1087.0" y="710.8" class="t">1189</text><text x="1101.0" y="710.8" class="t" style="fill:#c0506a;stroke:#c0506a">3908</text><text x="1087.0" y="737.6" class="t">535</text><text x="1101.0" y="737.6" class="t">0</text><text x="1087.0" y="657.2" class="t">5</text><text x="1094.0" y="657.2" class="t d">·</text><text x="1101.0" y="657.2" class="t">8</text><text x="1094.0" y="764.4" class="t" style="fill:#2a9a2a;stroke:none;fill-opacity:0.75">2273</text><rect x="1126.00" y="696.30" width="2" height="80.40" fill="#9a9ca6"/><rect x="1126.00" y="696.30" width="2" height="80.40" fill="#25a21f"/><rect x="1113.50" y="723.10" width="27" height="26.80" fill="#5a82ff" fill-opacity="0.25"/><rect x="1113.50" y="696.30" width="27" height="80.40" fill="none" stroke="#ffffff" stroke-width="1.2"/><text x="1120.0" y="710.8" class="t">0</text><text x="1134.0" y="710.8" class="t">4580</text><text x="1120.0" y="737.6" class="t">3982</text><text x="1134.0" y="737.6" class="t" style="fill:#c0506a;stroke:#c0506a">899</text><text x="1120.0" y="764.4" class="t">1597</text><text x="1134.0" y="764.4" class="t">0</text><text x="1120.0" y="684.0" class="t">4</text><text x="1127.0" y="684.0" class="t d">·</text><text x="1134.0" y="684.0" class="t">0</text><text x="1127.0" y="791.2" class="t" style="fill:#2a9a2a;stroke:none;fill-opacity:0.75">500</text><rect x="1160.00" y="669.50" width="2" height="107.20" fill="#9a9ca6"/><rect x="1160.00" y="669.50" width="2" height="107.20" fill="#f0483a"/><rect x="1147.50" y="723.10" width="27" height="26.80" fill="#5a82ff" fill-opacity="0.25"/><rect x="1147.50" y="669.50" width="27" height="107.20" fill="none" stroke="#ffffff" stroke-width="1.2"/><text x="1154.0" y="684.0" class="t">0</text><text x="1168.0" y="684.0" class="t">4189</text><text x="1154.0" y="710.8" class="t" style="fill:#2f9a4a;stroke:#2f9a4a">3734</text><text x="1168.0" y="710.8" class="t">4631</text><text x="1154.0" y="737.6" class="t">549</text><text x="1168.0" y="737.6" class="t">3661</text><text x="1154.0" y="764.4" class="t">4995</text><text x="1168.0" y="764.4" class="t">0</text><text x="1154.0" y="657.2" class="t">8</text><text x="1161.0" y="657.2" class="t d">·</text><text x="1168.0" y="657.2" class="t">3</text><text x="1161.0" y="791.2" class="t" style="fill:#c8403a;stroke:none;fill-opacity:0.75">2937</text><rect x="1194.00" y="615.90" width="2" height="107.20" fill="#9a9ca6"/><rect x="1194.00" y="642.70" width="2" height="53.60" fill="#f0483a"/><rect x="1181.50" y="669.50" width="27" height="26.80" fill="#5a82ff" fill-opacity="0.25"/><rect x="1181.50" y="615.90" width="27" height="107.20" fill="none" stroke="#ffffff" stroke-width="1.2"/><text x="1188.0" y="630.4" class="t">0</text><text x="1202.0" y="630.4" class="t">2300</text><text x="1188.0" y="657.2" class="t">3735</text><text x="1202.0" y="657.2" class="t">4192</text><text x="1188.0" y="684.0" class="t">3946</text><text x="1202.0" y="684.0" class="t">4189</text><text x="1188.0" y="710.8" class="t">2156</text><text x="1202.0" y="710.8" class="t">0</text><text x="1188.0" y="603.6" class="t">8</text><text x="1195.0" y="603.6" class="t d">·</text><text x="1202.0" y="603.6" class="t">3</text><text x="1195.0" y="737.6" class="t" style="fill:#c8403a;stroke:none;fill-opacity:0.75">1933</text><rect x="1228.00" y="615.90" width="2" height="80.40" fill="#9a9ca6"/><rect x="1228.00" y="642.70" width="2" height="53.60" fill="#f0483a"/><rect x="1215.50" y="669.50" width="27" height="26.80" fill="#5a82ff" fill-opacity="0.25"/><rect x="1215.50" y="615.90" width="27" height="80.40" fill="none" stroke="#ffffff" stroke-width="1.2"/><text x="1222.0" y="630.4" class="t">0</text><text x="1236.0" y="630.4" class="t">1153</text><text x="1222.0" y="657.2" class="t">3443</text><text x="1236.0" y="657.2" class="t">1026</text><text x="1222.0" y="684.0" class="t">2618</text><text x="1236.0" y="684.0" class="t" style="fill:#c0506a;stroke:#c0506a">0</text><text x="1222.0" y="603.6" class="t">3</text><text x="1229.0" y="603.6" class="t d">·</text><text x="1236.0" y="603.6" class="t">6</text><text x="1229.0" y="710.8" class="t" style="fill:#2a9a2a;stroke:none;fill-opacity:0.75">399</text><rect x="1262.00" y="615.90" width="2" height="80.40" fill="#9a9ca6"/><rect x="1262.00" y="642.70" width="2" height="53.60" fill="#f0483a"/><rect x="1249.50" y="642.70" width="27" height="26.80" fill="#5a82ff" fill-opacity="0.25"/><rect x="1249.50" y="615.90" width="27" height="80.40" fill="none" stroke="#ffffff" stroke-width="1.2"/><text x="1256.0" y="630.4" class="t">0</text><text x="1270.0" y="630.4" class="t">1772</text><text x="1256.0" y="657.2" class="t">5514</text><text x="1270.0" y="657.2" class="t">2510</text><text x="1256.0" y="684.0" class="t">1295</text><text x="1270.0" y="684.0" class="t">0</text><text x="1256.0" y="603.6" class="t">5</text><text x="1263.0" y="603.6" class="t d">·</text><text x="1270.0" y="603.6" class="t">2</text><text x="1263.0" y="710.8" class="t" style="fill:#c8403a;stroke:none;fill-opacity:0.75">1136</text><rect x="1296.00" y="615.90" width="2" height="80.40" fill="#9a9ca6"/><rect x="1296.00" y="642.70" width="2" height="26.80" fill="#ffffff"/><rect x="1283.50" y="642.70" width="27" height="26.80" fill="#5a82ff" fill-opacity="0.25"/><rect x="1283.50" y="615.90" width="27" height="80.40" fill="none" stroke="#ffffff" stroke-width="1.2"/><text x="1290.0" y="630.4" class="t">0</text><text x="1304.0" y="630.4" class="t">1154</text><text x="1290.0" y="657.2" class="t">3861</text><text x="1304.0" y="657.2" class="t" style="fill:#c0506a;stroke:#c0506a">1828</text><text x="1290.0" y="684.0" class="t">4021</text><text x="1304.0" y="684.0" class="t">0</text><text x="1290.0" y="603.6" class="t">2</text><text x="1297.0" y="603.6" class="t d">·</text><text x="1304.0" y="603.6" class="t">3</text><text x="1297.0" y="710.8" class="t" style="fill:#c8403a;stroke:none;fill-opacity:0.75">761</text><rect x="1330.00" y="615.90" width="2" height="80.40" fill="#9a9ca6"/><rect x="1330.00" y="642.70" width="2" height="53.60" fill="#25a21f"/><rect x="1317.50" y="642.70" width="27" height="26.80" fill="#5a82ff" fill-opacity="0.25"/><rect x="1317.50" y="615.90" width="27" height="80.40" fill="none" stroke="#ffffff" stroke-width="1.2"/><text x="1324.0" y="630.4" class="t">0</text><text x="1338.0" y="630.4" class="t">5816</text><text x="1324.0" y="657.2" class="t">3565</text><text x="1338.0" y="657.2" class="t">4253</text><text x="1324.0" y="684.0" class="t">2951</text><text x="1338.0" y="684.0" class="t">0</text><text x="1324.0" y="603.6" class="t">5</text><text x="1331.0" y="603.6" class="t d">·</text><text x="1338.0" y="603.6" class="t">1</text><text x="1331.0" y="710.8" class="t" style="fill:#2a9a2a;stroke:none;fill-opacity:0.75">1598</text><rect x="1364.00" y="642.70" width="2" height="80.40" fill="#9a9ca6"/><rect x="1364.00" y="669.50" width="2" height="26.80" fill="#ffffff"/><rect x="1351.50" y="669.50" width="27" height="26.80" fill="#5a82ff" fill-opacity="0.25"/><rect x="1351.50" y="642.70" width="27" height="80.40" fill="none" stroke="#ffffff" stroke-width="1.2"/><text x="1358.0" y="657.2" class="t">0</text><text x="1372.0" y="657.2" class="t">189</text><text x="1358.0" y="684.0" class="t">2798</text><text x="1372.0" y="684.0" class="t">4568</text><text x="1358.0" y="710.8" class="t">3178</text><text x="1372.0" y="710.8" class="t">0</text><text x="1358.0" y="630.4" class="t">5</text><text x="1365.0" y="630.4" class="t d">·</text><text x="1372.0" y="630.4" class="t">8</text><text x="1365.0" y="737.6" class="t" style="fill:#2a9a2a;stroke:none;fill-opacity:0.75">2655</text><rect x="1398.00" y="669.50" width="2" height="80.40" fill="#9a9ca6"/><rect x="1398.00" y="669.50" width="2" height="53.60" fill="#25a21f"/><rect x="1385.50" y="696.30" width="27" height="26.80" fill="#5a82ff" fill-opacity="0.25"/><rect x="1385.50" y="669.50" width="27" height="80.40" fill="none" stroke="#ffffff" stroke-width="1.2"/><text x="1392.0" y="684.0" class="t">0</text><text x="1406.0" y="684.0" class="t">2450</text><text x="1392.0" y="710.8" class="t" style="fill:#2f9a4a;stroke:#2f9a4a">4226</text><text x="1406.0" y="710.8" class="t">556</text><text x="1392.0" y="737.6" class="t">1902</text><text x="1406.0" y="737.6" class="t">0</text><text x="1392.0" y="657.2" class="t">1</text><text x="1399.0" y="657.2" class="t d">·</text><text x="1406.0" y="657.2" class="t">1</text><text x="1399.0" y="764.4" class="t" style="fill:#2a9a2a;stroke:none;fill-opacity:0.75">1187</text><rect x="1431.00" y="669.50" width="2" height="80.40" fill="#9a9ca6"/><rect x="1431.00" y="696.30" width="2" height="26.80" fill="#ffffff"/><rect x="1418.50" y="696.30" width="27" height="26.80" fill="#5a82ff" fill-opacity="0.25"/><rect x="1418.50" y="669.50" width="27" height="80.40" fill="none" stroke="#ffffff" stroke-width="1.2"/><text x="1425.0" y="684.0" class="t">0</text><text x="1439.0" y="684.0" class="t">2257</text><text x="1425.0" y="710.8" class="t" style="fill:#2f9a4a;stroke:#2f9a4a">354</text><text x="1439.0" y="710.8" class="t" style="fill:#c0506a;stroke:#c0506a">1517</text><text x="1425.0" y="737.6" class="t">3489</text><text x="1439.0" y="737.6" class="t">0</text><text x="1425.0" y="657.2" class="t">4</text><text x="1432.0" y="657.2" class="t d">·</text><text x="1439.0" y="657.2" class="t">6</text><text x="1432.0" y="764.4" class="t" style="fill:#c8403a;stroke:none;fill-opacity:0.75">711</text><rect x="1465.00" y="669.50" width="2" height="80.40" fill="#9a9ca6"/><rect x="1465.00" y="669.50" width="2" height="53.60" fill="#f0483a"/><rect x="1452.50" y="696.30" width="27" height="26.80" fill="#5a82ff" fill-opacity="0.25"/><rect x="1452.50" y="669.50" width="27" height="80.40" fill="none" stroke="#ffffff" stroke-width="1.2"/><text x="1459.0" y="684.0" class="t">0</text><text x="1473.0" y="684.0" class="t">4425</text><text x="1459.0" y="710.8" class="t">4247</text><text x="1473.0" y="710.8" class="t" style="fill:#c0506a;stroke:#c0506a">4704</text><text x="1459.0" y="737.6" class="t">2316</text><text x="1473.0" y="737.6" class="t">0</text><text x="1459.0" y="657.2" class="t">0</text><text x="1466.0" y="657.2" class="t d">·</text><text x="1473.0" y="657.2" class="t">2</text><text x="1466.0" y="764.4" class="t" style="fill:#2a9a2a;stroke:none;fill-opacity:0.75">1842</text><rect x="1499.00" y="669.50" width="2" height="80.40" fill="#9a9ca6"/><rect x="1499.00" y="669.50" width="2" height="53.60" fill="#25a21f"/><rect x="1486.50" y="696.30" width="27" height="26.80" fill="#5a82ff" fill-opacity="0.25"/><rect x="1486.50" y="669.50" width="27" height="80.40" fill="none" stroke="#ffffff" stroke-width="1.2"/><text x="1493.0" y="684.0" class="t">0</text><text x="1507.0" y="684.0" class="t">623</text><text x="1493.0" y="710.8" class="t">2233</text><text x="1507.0" y="710.8" class="t">167</text><text x="1493.0" y="737.6" class="t">716</text><text x="1507.0" y="737.6" class="t">0</text><text x="1493.0" y="657.2" class="t">9</text><text x="1500.0" y="657.2" class="t d">·</text><text x="1507.0" y="657.2" class="t">3</text><text x="1500.0" y="764.4" class="t" style="fill:#c8403a;stroke:none;fill-opacity:0.75">372</text><rect x="1533.00" y="669.50" width="2" height="80.40" fill="#9a9ca6"/><rect x="1533.00" y="669.50" width="2" height="26.80" fill="#ffffff"/><rect x="1520.50" y="696.30" width="27" height="26.80" fill="#5a82ff" fill-opacity="0.25"/><rect x="1520.50" y="669.50" width="27" height="80.40" fill="none" stroke="#ffffff" stroke-width="1.2"/><text x="1527.0" y="684.0" class="t">0</text><text x="1541.0" y="684.0" class="t">2196</text><text x="1527.0" y="710.8" class="t" style="fill:#2f9a4a;stroke:#2f9a4a">1026</text><text x="1541.0" y="710.8" class="t">3747</text><text x="1527.0" y="737.6" class="t">3452</text><text x="1541.0" y="737.6" class="t">0</text><text x="1527.0" y="657.2" class="t">4</text><text x="1534.0" y="657.2" class="t d">·</text><text x="1541.0" y="657.2" class="t">9</text><text x="1534.0" y="764.4" class="t" style="fill:#c8403a;stroke:none;fill-opacity:0.75">629</text><rect x="1567.00" y="669.50" width="2" height="80.40" fill="#9a9ca6"/><rect x="1567.00" y="669.50" width="2" height="53.60" fill="#25a21f"/><rect x="1554.50" y="696.30" width="27" height="26.80" fill="#5a82ff" fill-opacity="0.25"/><rect x="1554.50" y="669.50" width="27" height="80.40" fill="none" stroke="#ffffff" stroke-width="1.2"/><text x="1561.0" y="684.0" class="t">0</text><text x="1575.0" y="684.0" class="t">383</text><text x="1561.0" y="710.8" class="t" style="fill:#2f9a4a;stroke:#2f9a4a">4346</text><text x="1575.0" y="710.8" class="t" style="fill:#c0506a;stroke:#c0506a">5842</text><text x="1561.0" y="737.6" class="t">1352</text><text x="1575.0" y="737.6" class="t">0</text><text x="1561.0" y="657.2" class="t">4</text><text x="1568.0" y="657.2" class="t d">·</text><text x="1575.0" y="657.2" class="t">0</text><text x="1568.0" y="764.4" class="t" style="fill:#2a9a2a;stroke:none;fill-opacity:0.75">841</text></g><text x="14" y="135.0" class="ax">2295</text><text x="14" y="269.0" class="ax">2290</text><text x="14" y="403.0" class="ax">2285</text><text x="14" y="537.0" class="ax">2280</text><text x="14" y="671.0" class="ax">2275</text><text x="14" y="805.0" class="ax">2270</text><rect x="1892" y="216.9" width="5.0" height="21.5" fill="#622a33"/><rect x="1897" y="216.9" width="15.0" height="21.5" fill="#434c27"/><text x="1902" y="229.7" class="vp">7381</text><rect x="1881.5" y="243.7" width="19.5" height="21.5" fill="#622a33"/><rect x="1901" y="243.7" width="11.0" height="21.5" fill="#434c27"/><text x="1902" y="256.5" class="vp">11442</text><rect x="1892" y="270.5" width="8.0" height="21.5" fill="#622a33"/><rect x="1900" y="270.5" width="12.0" height="21.5" fill="#434c27"/><text x="1902" y="283.3" class="vp">7465</text><rect x="1833" y="297.3" width="39.0" height="21.5" fill="#622a33"/><rect x="1872" y="297.3" width="40.0" height="21.5" fill="#434c27"/><text x="1902" y="310.1" class="vp">29555</text><rect x="1765" y="324.1" width="93.0" height="21.5" fill="#622a33"/><rect x="1858" y="324.1" width="54.0" height="21.5" fill="#434c27"/><text x="1902" y="336.9" class="vp">55279</text><rect x="1858" y="350.9" width="51.4" height="21.5" fill="#622a33"/><rect x="1909.4" y="350.9" width="2.6" height="21.5" fill="#434c27"/><text x="1902" y="363.7" class="vp">20183</text><rect x="1896" y="377.7" width="16.0" height="21.5" fill="#5b3a33"/><text x="1902" y="390.5" class="vp">5944</text><rect x="1885.6" y="404.5" width="18.0" height="21.5" fill="#5b3a33"/><rect x="1903.6" y="404.5" width="8.4" height="21.5" fill="#3d522a"/><text x="1902" y="417.3" class="vp">9923</text><rect x="1878" y="431.3" width="26.0" height="21.5" fill="#5b3a33"/><rect x="1904" y="431.3" width="8.0" height="21.5" fill="#3d522a"/><text x="1902" y="444.1" class="vp">12785</text><rect x="1877.5" y="511.7" width="13.5" height="21.5" fill="#a8322b"/><rect x="1891" y="511.7" width="21.0" height="21.5" fill="#237a1f"/><text x="1902" y="524.5" class="vp">12885</text><rect x="1846.5" y="538.5" width="43.0" height="21.5" fill="#a8322b"/><rect x="1889.5" y="538.5" width="22.5" height="21.5" fill="#237a1f"/><text x="1902" y="551.3" class="vp">24580</text><rect x="1812.7" y="565.3" width="34.6" height="21.5" fill="#a8322b"/><rect x="1847.3" y="565.3" width="64.7" height="21.5" fill="#237a1f"/><text x="1902" y="578.1" class="vp">37291</text><rect x="1816.7" y="592.1" width="52.8" height="21.5" fill="#a8322b"/><rect x="1869.5" y="592.1" width="42.5" height="21.5" fill="#237a1f"/><text x="1902" y="604.9" class="vp">35784</text><rect x="1800" y="618.9" width="69.8" height="21.5" fill="#a8322b"/><rect x="1869.8" y="618.9" width="42.2" height="21.5" fill="#237a1f"/><text x="1902" y="631.7" class="vp">41997</text><rect x="1757" y="645.7" width="83.0" height="21.5" fill="#a8322b"/><rect x="1840" y="645.7" width="72.0" height="21.5" fill="#237a1f"/><text x="1902" y="658.5" class="vp">58143</text><rect x="1784" y="672.5" width="57.0" height="21.5" fill="#a8322b"/><rect x="1841" y="672.5" width="71.0" height="21.5" fill="#237a1f"/><text x="1902" y="685.3" class="vp">48087</text><rect x="1732" y="699.3" width="89.0" height="21.5" fill="#e8473a"/><rect x="1821" y="699.3" width="91.0" height="21.5" fill="#23921f"/><text x="1902" y="712.1" class="vp">67591</text><rect x="1797.5" y="726.1" width="93.5" height="21.5" fill="#a8322b"/><rect x="1891" y="726.1" width="21.0" height="21.5" fill="#237a1f"/><text x="1902" y="738.9" class="vp">42938</text><text x="1902" y="202.9" class="vp">1</text><rect x="1908" y="458.1" width="4" height="21.5" fill="#e8473a"/><rect x="1874" y="458.1" width="5" height="21.5" fill="#4a6ed0"/><text x="1902" y="470.9" class="vp">1584</text><rect x="1908" y="484.9" width="4" height="21.5" fill="#a8322b"/><text x="1902" y="497.7" class="vp">1559</text><rect x="1726" y="699.3" width="6" height="21.5" fill="#d4a94e"/><rect x="1874" y="752.9" width="5" height="21.5" fill="#c455d0"/><rect x="1896.7" y="752.9" width="15.3" height="21.5" fill="#e8473a"/><text x="1902" y="765.7" class="vp">5716</text><rect x="1875" y="467.8" width="3.5" height="1.5" fill="#ffffff"/><rect x="1727.5" y="709.0" width="3.5" height="1.5" fill="#ffffff"/><rect x="1875" y="762.6" width="3.5" height="1.5" fill="#ffffff"/><rect x="1710.5" y="110.5" width="16" height="17" fill="#1b1f39" stroke="#3a3d55" stroke-width="1"/><rect x="1710.5" y="127.5" width="16" height="16" fill="#1b1f39" stroke="#3a3d55" stroke-width="1"/><path d="M1717.3 115.4L1721 119.1L1717.3 122.8" fill="none" stroke="#d0d2dc" stroke-width="1.1"/><path d="M1716.9 134.4C1716.9 132.8 1718 132.1 1719.2 132.1C1720.5 132.1 1721.4 133 1721.4 134.1C1721.4 135.6 1719.3 135.9 1719.3 137.6" fill="none" stroke="#d0d2dc" stroke-width="1.1"/><rect x="1718.7" y="138.6" width="1.2" height="1.2" fill="#d0d2dc"/><rect x="8" y="881" width="1904" height="1" fill="#34374d"/><rect x="8" y="904.5" width="1904" height="1" fill="#34374d"/><rect x="959.5" y="882" width="1" height="23" fill="#34374d"/><text x="105.9" y="919" class="tm">02-19 21:40</text><text x="241.4" y="919" class="tm">02-19 22:00</text><text x="377.0" y="919" class="tm">02-19 22:20</text><text x="512.6" y="919" class="tm">02-19 22:40</text><text x="648.1" y="919" class="tm">02-19 23:00</text><text x="786.5" y="919" class="tm">09:20</text><text x="922.0" y="919" class="tm">09:40</text><text x="1057.6" y="919" class="tm">10:00</text><text x="1193.2" y="919" class="tm">10:35</text><text x="1328.7" y="919" class="tm">10:55</text><text x="1464.3" y="919" class="tm">11:15</text><text x="484" y="897.4" text-anchor="middle" font-size="13" fill="#4a74d4" stroke="#4a74d4" stroke-width="0.35" font-family="Liberation Sans, sans-serif">信号点</text><text x="1436" y="898.2" text-anchor="middle" font-size="13.5" fill="#9497aa" stroke="#9497aa" stroke-width="0.35" font-family="Liberation Sans, sans-serif">Cum Delta</text><defs><linearGradient id="gg" x1="0" y1="0" x2="0" y2="1"><stop offset="0" stop-color="#1f4d42"/><stop offset="1" stop-color="#1b2438"/></linearGradient><linearGradient id="rg" x1="0" y1="0" x2="0" y2="1"><stop offset="0" stop-color="#5c2530"/><stop offset="1" stop-color="#221f38"/></linearGradient></defs><circle cx="280" cy="870.4" r="7.7" fill="url(#gg)"/><path d="M276.3 868.0H283.7L280 874.0Z" fill="#27a21f"/><circle cx="450" cy="870.4" r="7.7" fill="url(#rg)"/><path d="M446.6 873.8H453.4L450 867.1999999999999Z" fill="#f04a3a"/><circle cx="789" cy="870.4" r="7.7" fill="url(#gg)"/><path d="M785 868.6L789 866.1999999999999L793 868.6V869.5L789 871.3L785 869.5Z" fill="#27a21f"/><path d="M785.2 871.1999999999999L789 873.0L792.8 871.1999999999999M785.2 873.0L789 875.0L792.8 873.0" fill="none" stroke="#27a21f" stroke-width="1"/><circle cx="822" cy="870.4" r="7.7" fill="url(#gg)"/><path d="M818.3 868.0H825.7L822 874.0Z" fill="#27a21f"/><circle cx="1399" cy="870.4" r="7.7" fill="url(#gg)"/><path d="M1395.3 868.0H1402.7L1399 874.0Z" fill="#27a21f"/></svg>
<div class="hd" style="left:20px;top:14px;font-size:16px;font-weight:bold;color:#ffffff">实时订单流</div>
<div class="hd" style="left:106.5px;top:14.5px;width:15px;height:15px;border:1px solid #6b6e80;border-radius:50%;color:#6b6e80;font-size:10px;text-align:center;line-height:13px">?</div>
<div class="hd" style="left:147px;top:15px;font-size:14px;color:#6e7285">1分</div>
<div class="hd" style="left:184px;top:13px;font-size:16px;font-weight:bold;color:#e8e9ef">5分</div>
<div class="hd" style="left:188px;top:35px;width:16px;height:2px;background:#3d6fd8"></div>
<div class="hd" style="left:225.5px;top:15px;font-size:14px;color:#6e7285">15分</div>
<div class="hd" style="left:270.5px;top:15px;font-size:14px;color:#6e7285">30分</div>
<div class="hd" style="left:316px;top:15px;font-size:14px;color:#6e7285">1小时</div>
<div class="hd" style="left:369px;top:15px;font-size:14px;color:#6e7285">日</div>
<div class="hd" style="left:777px;top:52px;width:366px;height:28px;background:#232b4d;border-radius:2px"></div>
<div class="hd" style="left:787px;top:58px;font-size:14px;font-weight:bold;color:#ffffff">玉米2505</div>
<div class="hd" style="left:1018px;top:60px;font-size:12px;color:#2aa52a">2273.00</div>
<div class="hd" style="left:1076px;top:60px;font-size:12px;color:#2aa52a">−0.79%</div>
<svg class="hd" style="left:1119px;top:60px" width="16" height="10"><path d="M2 2.5L8 8L14 2.5" fill="none" stroke="#a0a3b5" stroke-width="1.2"/></svg>
<div class="hd" style="left:1766px;top:90px;font-size:12px;color:#c8cad4">参数设置</div>
<div class="hd" style="left:1822px;top:91px;width:1px;height:11px;background:#3a3d52"></div>
<div class="hd" style="left:1830px;top:90px;font-size:12px;color:#c8cad4">自定义量价</div>
<svg class="hd" style="left:1893px;top:89.6px" width="14" height="14"><path d="M7 2.6L11.2 5V9.8L7 12.2L2.8 9.8V5Z" fill="none" stroke="#c4c6d0" stroke-width="1.2"/><rect x="5.9" y="6.3" width="2.2" height="2.2" fill="#a8aab6"/></svg>
<svg class="hd" style="left:1884px;top:14px" width="16" height="16"><path d="M1 13.6L6.8 7.9M3.1 8.1H6.8V11.9M13.9 1.2L8.2 6.8M8.2 3.1V6.6H11.9" fill="none" stroke="#9a9cb0" stroke-width="1.3"/></svg>
</body></html>
